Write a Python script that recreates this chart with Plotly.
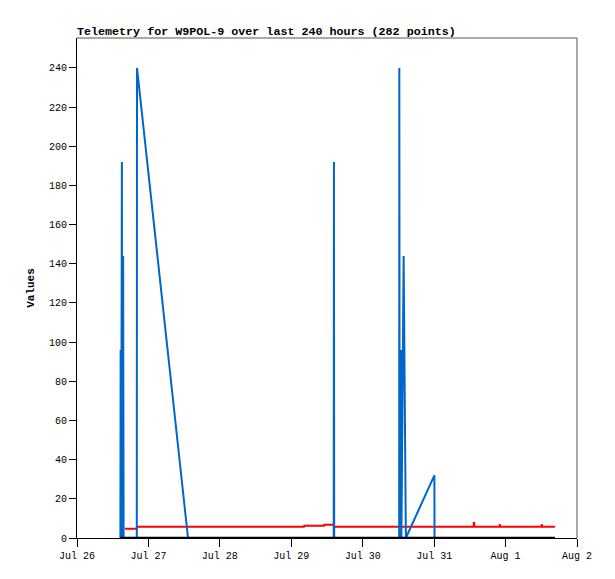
import plotly.graph_objs as go

# telemetry channels
blue_t = ["2023-07-26 14:35", "2023-07-26 14:40", "2023-07-26 14:50", "2023-07-26 15:05",
          "2023-07-26 15:12", "2023-07-26 15:30", "2023-07-26 15:40", "2023-07-26 20:05",
          "2023-07-26 20:10", "2023-07-27 13:18", "2023-07-29 14:15", "2023-07-29 14:20",
          "2023-07-29 14:25", "2023-07-30 12:15", "2023-07-30 12:18", "2023-07-30 12:25",
          "2023-07-30 12:50", "2023-07-30 13:00", "2023-07-30 13:45", "2023-07-30 14:30",
          "2023-07-31 00:05", "2023-07-31 00:08", "2023-08-01 16:35"]
blue_v = [0, 96, 0, 192, 0, 144, 0, 0, 240, 0, 0, 192, 0, 0, 240, 0, 96, 0, 144, 0, 32, 0, 0]

red_t = ["2023-07-26 16:08", "2023-07-26 20:10", "2023-07-26 20:12", "2023-07-29 04:16",
         "2023-07-29 04:20", "2023-07-29 11:00", "2023-07-29 11:05", "2023-07-29 14:20",
         "2023-07-29 14:25", "2023-07-31 13:18", "2023-07-31 13:20", "2023-07-31 13:35",
         "2023-07-31 22:00", "2023-07-31 22:03", "2023-07-31 22:15", "2023-08-01 12:08",
         "2023-08-01 12:10", "2023-08-01 12:20", "2023-08-01 16:35"]
red_v = [4.7, 4.7, 5.7, 5.7, 6.2, 6.2, 6.8, 6.8, 5.7, 5.7, 8.2, 5.7, 5.7, 7.1, 5.7, 5.7, 7.1, 5.7, 5.7]

black_t = ["2023-07-26 14:35", "2023-08-01 16:35"]
black_v = [0, 0]

x_ticks = ["2023-07-26", "2023-07-27", "2023-07-28", "2023-07-29",
           "2023-07-30", "2023-07-31", "2023-08-01", "2023-08-02"]
x_labels = ["Jul 26", "Jul 27", "Jul 28", "Jul 29", "Jul 30", "Jul 31", "Aug 1", "Aug 2"]

mono = "Liberation Mono"

# page body adds an 8px margin, so the figure is 8px smaller than the window
W, H = 607, 571

fig = go.Figure()
fig.add_trace(go.Scatter(x=red_t, y=red_v, mode="lines", line=dict(color="#ff0000", width=2)))
fig.add_trace(go.Scatter(x=blue_t, y=blue_v, mode="lines", line=dict(color="#0066cc", width=2)))
fig.add_trace(go.Scatter(x=black_t, y=black_v, mode="lines", line=dict(color="#000000", width=2.5)))

fig.update_layout(
    width=W, height=H,
    margin=dict(l=69, r=38, t=30, b=41),
    paper_bgcolor="white", plot_bgcolor="white",
    showlegend=False,
    font=dict(family=mono, size=10, color="black"),
    title=dict(text="<b>Telemetry for W9POL-9 over last 240 hours (282 points)</b>",
               x=69 / W, xanchor="left", xref="container",
               y=1 - 23 / H, yanchor="middle", yref="container",
               font=dict(family=mono, size=11.7, color="black")),
    xaxis=dict(range=["2023-07-26", "2023-08-02"], tickvals=x_ticks, ticktext=x_labels,
               showgrid=False, zeroline=False, showline=True, linecolor="black", linewidth=1,
               ticks="outside", ticklen=8, tickcolor="black", tickwidth=1, automargin=False),
    yaxis=dict(range=[0, 255.3], dtick=20, tick0=0,
               showgrid=False, zeroline=False, showline=True, linecolor="black", linewidth=1,
               ticks="outside", ticklen=7, tickcolor="black", tickwidth=1, automargin=False,
               title=dict(text="<b>Values</b>", standoff=12,
                          font=dict(family=mono, size=11, color="black"))),
    shapes=[
        dict(type="line", xref="paper", yref="paper", x0=0, x1=1, y0=1, y1=1,
             line=dict(color="#555555", width=1)),
        dict(type="line", xref="paper", yref="paper", x0=1, x1=1, y0=0, y1=1,
             line=dict(color="#555555", width=1)),
    ],
)

fig.write_html("out.html")
